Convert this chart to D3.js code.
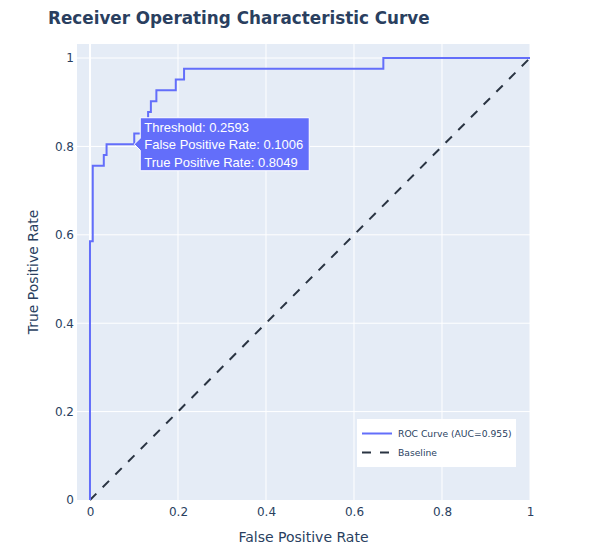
<!DOCTYPE html>
<html>
<head>
<meta charset="utf-8">
<script src="https://cdn.jsdelivr.net/npm/d3@7"></script>
<style>
  html, body { margin: 0; padding: 0; background: #fff; }
  svg { display: block; font-family: "DejaVu Sans", Verdana, sans-serif; }
</style>
</head>
<body>
<svg id="chart" width="603" height="558"></svg>
<script>
// ---- data ----
const rocFpr = [0, 0, 0.0063, 0.0063, 0.0314, 0.0314, 0.0377, 0.0377, 0.1006, 0.1006,
                0.1195, 0.1195, 0.1321, 0.1321, 0.1384, 0.1384, 0.1509, 0.1509, 0.1950, 0.1950,
                0.2138, 0.2138, 0.6667, 0.6667, 1];
const rocTpr = [0, 0.5854, 0.5854, 0.7561, 0.7561, 0.7805, 0.7805, 0.8049, 0.8049, 0.8293,
                0.8293, 0.8537, 0.8537, 0.8780, 0.8780, 0.9024, 0.9024, 0.9268, 0.9268, 0.9512,
                0.9512, 0.9756, 0.9756, 1, 1];
const baselineX = [0, 1];
const baselineY = [0, 1];
const xTicks = [0, 0.2, 0.4, 0.6, 0.8, 1];
const yTicks = [0, 0.2, 0.4, 0.6, 0.8, 1];
const hoverPoint = { threshold: 0.2593, fpr: 0.1006, tpr: 0.8049 };
const seriesNames = ["ROC Curve (AUC=0.955)", "Baseline"];

// ---- layout ----
const svg = d3.select("#chart");
const plot = { left: 77, right: 530, top: 44, bottom: 500 };
const textColor = "#2a3f5f";
const rocColor = "#636efa";
const baseColor = "#2a3442";
const font = "'DejaVu Sans', Verdana, sans-serif";

const x = d3.scaleLinear().domain([-0.0295, 1]).range([plot.left, plot.right]);
const y = d3.scaleLinear().domain([0, 1.0317]).range([plot.bottom, plot.top]);

svg.append("rect")
  .attr("x", plot.left).attr("y", plot.top)
  .attr("width", plot.right - plot.left).attr("height", plot.bottom - plot.top)
  .attr("fill", "#e5ecf6");

// grid
const grid = svg.append("g");
grid.selectAll(".vx").data(xTicks).join("line")
  .attr("x1", d => x(d)).attr("x2", d => x(d))
  .attr("y1", plot.top).attr("y2", plot.bottom)
  .attr("stroke", "#fff").attr("stroke-width", d => d === 0 ? 2 : 1);
grid.selectAll(".hy").data(yTicks.filter(d => d > 0)).join("line")
  .attr("x1", plot.left).attr("x2", plot.right)
  .attr("y1", d => y(d)).attr("y2", d => y(d))
  .attr("stroke", "#fff").attr("stroke-width", 1);

// axes
const fmt = d => d === 0 ? "0" : d === 1 ? "1" : d3.format(".1f")(d);
const xAxis = d3.axisBottom(x).tickValues(xTicks).tickFormat(fmt).tickSize(0).tickPadding(7);
const yAxis = d3.axisLeft(y).tickValues(yTicks).tickFormat(fmt).tickSize(0).tickPadding(2);

const gx = svg.append("g").attr("transform", `translate(0,${plot.bottom})`).call(xAxis);
const gy = svg.append("g").attr("transform", `translate(${plot.left - 1},0)`).call(yAxis);
[gx, gy].forEach(g => {
  g.select(".domain").remove();
  g.selectAll("text").attr("fill", textColor).attr("font-size", 12)
    .attr("font-family", font);
});

// baseline
const line = d3.line().x(d => x(d[0])).y(d => y(d[1]));
svg.append("path")
  .datum(d3.zip(baselineX, baselineY))
  .attr("d", line)
  .attr("fill", "none").attr("stroke", baseColor).attr("stroke-width", 2)
  .attr("stroke-dasharray", "9,9");

// ROC
svg.append("path")
  .datum(d3.zip(rocFpr, rocTpr))
  .attr("d", line)
  .attr("fill", "none").attr("stroke", rocColor).attr("stroke-width", 2)
  .attr("stroke-linejoin", "miter");

// title
svg.append("text")
  .attr("x", 48).attr("y", 24)
  .attr("font-size", 16.8).attr("font-weight", "bold").attr("fill", textColor)
  .attr("font-family", font)
  .text("Receiver Operating Characteristic Curve");

// axis titles
svg.append("text")
  .attr("x", (plot.left + plot.right) / 2).attr("y", 542)
  .attr("text-anchor", "middle").attr("font-size", 14).attr("fill", textColor)
  .attr("font-family", font)
  .text("False Positive Rate");
svg.append("text")
  .attr("transform", `translate(38,${(plot.top + plot.bottom) / 2}) rotate(-90)`)
  .attr("text-anchor", "middle").attr("font-size", 14).attr("fill", textColor)
  .attr("font-family", font)
  .text("True Positive Rate");

// legend
const lg = svg.append("g").attr("transform", "translate(357,419)");
lg.append("rect").attr("width", 159).attr("height", 48).attr("fill", "#fff");
const legendItems = [
  { name: seriesNames[0], color: rocColor, dash: null },
  { name: seriesNames[1], color: baseColor, dash: "9,9" }
];
legendItems.forEach((it, i) => {
  const yy = 14.5 + i * 19;
  lg.append("line").attr("x1", 5).attr("x2", 35).attr("y1", yy).attr("y2", yy)
    .attr("stroke", it.color).attr("stroke-width", 2)
    .attr("stroke-dasharray", it.dash);
  lg.append("text").attr("x", 41).attr("y", yy + 3.5)
    .attr("font-size", 9.2).attr("fill", textColor).attr("font-family", font).text(it.name);
});

// hover tooltip
const hx = x(hoverPoint.fpr), hy = y(hoverPoint.tpr);
const tip = svg.append("g").attr("transform", `translate(${hx},${hy})`);
const lines = [
  `Threshold: ${hoverPoint.threshold.toFixed(4)}`,
  `False Positive Rate: ${hoverPoint.fpr.toFixed(4)}`,
  `True Positive Rate: ${hoverPoint.tpr.toFixed(4)}`
];
const boxW = 169, boxH = 53, arrow = 6;
tip.append("path")
  .attr("d", `M0,0 L${arrow},${-arrow} L${arrow},${-boxH/2} L${arrow+boxW},${-boxH/2} L${arrow+boxW},${boxH/2} L${arrow},${boxH/2} L${arrow},${arrow} Z`)
  .attr("fill", rocColor).attr("stroke", "#fff").attr("stroke-width", 1);
lines.forEach((t, i) => {
  tip.append("text")
    .attr("x", arrow + 4).attr("y", -boxH/2 + 14 + i * 17.5)
    .attr("font-family", "Arial, 'Liberation Sans', sans-serif")
    .attr("font-size", 13).attr("fill", "#fff").text(t);
});
</script>
</body>
</html>
